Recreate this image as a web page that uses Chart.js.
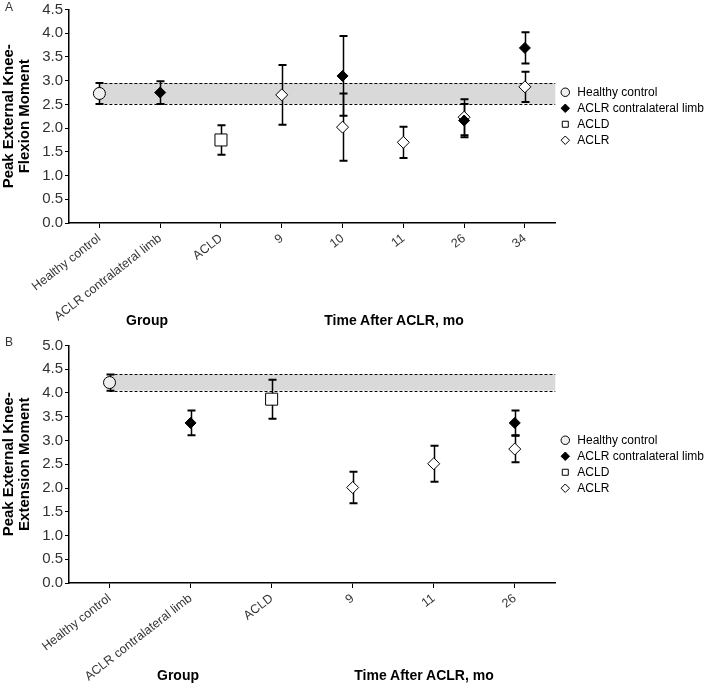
<!DOCTYPE html>
<html>
<head>
<meta charset="utf-8">
<script src="https://cdn.jsdelivr.net/npm/chart.js@4.4.0/dist/chart.umd.min.js"></script>
<style>
body { margin: 0; background: #fff; font-family: "Liberation Sans", Arial, sans-serif; }
#wrap { position: relative; width: 705px; height: 684px; overflow: hidden; }
canvas { position: absolute; left: 0; }
.lbl { position: absolute; white-space: nowrap; }
.ttl { font-weight: bold; font-size: 14px; color: #000; transform: translate(-50%, -50%); }
.pan { font-size: 12px; color: #333; }
</style>
</head>
<body>
<div id="wrap">
  <canvas id="chartA" width="705" height="335" style="top:0"></canvas>
  <canvas id="chartB" width="705" height="348" style="top:336px"></canvas>
  <div class="lbl pan" style="left:5px;top:0px">A</div>
  <div class="lbl pan" style="left:5px;top:335px">B</div>
  <div class="lbl ttl" style="left:147px;top:320px">Group</div>
  <div class="lbl ttl" style="left:394px;top:320px">Time After ACLR, mo</div>
  <div class="lbl ttl" style="left:178px;top:675px">Group</div>
  <div class="lbl ttl" style="left:424px;top:675px">Time After ACLR, mo</div>
</div>
<script>
// panel A - flexion moment
const labelsA = ["Healthy control", "ACLR contralateral limb", "ACLD", "9", "10", "11", "26", "34"];
const healthyA   = [2.73, null, null, null, null, null, null, null];
const healthySdA = [0.22, null, null, null, null, null, null, null];
const contraA    = [null, 2.75, null, null, 3.10, null, 2.16, 3.69];
const contraSdA  = [null, 0.24, null, null, 0.84, null, 0.35, 0.33];
const acldA      = [null, null, 1.75, null, null, null, null, null];
const acldSdA    = [null, null, 0.31, null, null, null, null, null];
const aclrA      = [null, null, null, 2.70, 2.02, 1.70, 2.23, 2.87];
const aclrSdA    = [null, null, null, 0.63, 0.71, 0.33, 0.38, 0.32];
const bandA = [2.51, 2.95];

// panel B - extension moment
const labelsB = ["Healthy control", "ACLR contralateral limb", "ACLD", "9", "11", "26"];
const healthyB   = [4.22, null, null, null, null, null];
const healthySdB = [0.17, null, null, null, null, null];
const contraB    = [null, 3.37, null, null, null, 3.37];
const contraSdB  = [null, 0.26, null, null, null, 0.26];
const acldB      = [null, null, 3.87, null, null, null];
const acldSdB    = [null, null, 0.41, null, null, null];
const aclrB      = [null, null, null, 2.01, 2.51, 2.82];
const aclrSdB    = [null, null, null, 0.33, 0.38, 0.28];
const bandB = [4.05, 4.39];

const FONT = "'Liberation Sans', Arial, sans-serif";

// gray reference band (healthy mean +/- sd) from the healthy category to the right edge
const bandPlugin = {
  id: 'band',
  beforeDatasetsDraw(chart, args, opts) {
    const { ctx, chartArea, scales: { x, y } } = chart;
    const x0 = x.getPixelForValue(0);
    const yLo = y.getPixelForValue(opts.range[0]);
    const yHi = y.getPixelForValue(opts.range[1]);
    ctx.save();
    ctx.fillStyle = '#d9d9d9';
    ctx.fillRect(x0, yHi, chartArea.right - x0, yLo - yHi);
    ctx.strokeStyle = '#000';
    ctx.lineWidth = 1;
    ctx.setLineDash([3, 2]);
    [yLo, yHi].forEach(py => {
      ctx.beginPath();
      ctx.moveTo(x0, Math.round(py) + 0.5);
      ctx.lineTo(chartArea.right, Math.round(py) + 0.5);
      ctx.stroke();
    });
    ctx.restore();
  }
};

const errorBars = {
  id: 'errorBars',
  beforeDatasetsDraw(chart) {
    const { ctx, scales: { x, y } } = chart;
    ctx.save();
    ctx.strokeStyle = '#000';
    chart.data.datasets.forEach(ds => {
      ds.data.forEach((v, i) => {
        if (v == null || ds.sd[i] == null) return;
        const px = Math.round(x.getPixelForValue(i)) + 0.5;
        const top = y.getPixelForValue(v + ds.sd[i]);
        const bot = y.getPixelForValue(v - ds.sd[i]);
        ctx.lineWidth = 1.5;
        ctx.beginPath();
        ctx.moveTo(px, top);
        ctx.lineTo(px, bot);
        ctx.stroke();
        ctx.lineWidth = 2;
        ctx.beginPath();
        ctx.moveTo(px - 4, top);
        ctx.lineTo(px + 4, top);
        ctx.moveTo(px - 4, bot);
        ctx.lineTo(px + 4, bot);
        ctx.stroke();
      });
    });
    ctx.restore();
  }
};

function series(label, data, sd, style, radius, fill) {
  return {
    label: label,
    data: data,
    sd: sd,
    showLine: false,
    pointStyle: style,
    pointRadius: radius,
    pointHoverRadius: radius,
    pointBackgroundColor: fill,
    pointBorderColor: '#000',
    pointBorderWidth: 1,
    backgroundColor: fill,
    borderColor: '#000'
  };
}

function makeChart(id, labels, sets, yMax, band, xHeight, padTop, yTitle) {
  return new Chart(document.getElementById(id), {
    type: 'line',
    data: { labels: labels, datasets: sets },
    plugins: [bandPlugin, errorBars],
    options: {
      responsive: false,
      animation: false,
      devicePixelRatio: 1,
      layout: { padding: { top: padTop, right: -9, left: 0, bottom: 0 } },
      plugins: {
        band: { range: band },
        tooltip: { enabled: false },
        legend: {
          position: 'right',
          align: 'center',
          fullSize: false,
          labels: {
            usePointStyle: true,
            boxWidth: 12,
            boxHeight: 6,
            padding: 4,
            color: '#000',
            font: { size: 12, family: FONT }
          }
        }
      },
      scales: {
        x: {
          offset: true,
          ticks: {
            autoSkip: false, minRotation: 38, maxRotation: 38,
            color: '#333', padding: 3,
            font: { size: 12.5, family: FONT }
          },
          grid: { drawOnChartArea: false, offset: false, tickLength: 5, color: '#000', lineWidth: 1 },
          border: { color: '#000', width: 1.5 },
          afterFit(s) { s.height = xHeight; s.paddingLeft = 0; s.paddingRight = 0; }
        },
        y: {
          min: 0, max: yMax,
          ticks: {
            stepSize: 0.5, color: '#333', padding: 2,
            font: { size: 15, family: FONT },
            callback: v => Number(v).toFixed(1)
          },
          grid: { drawOnChartArea: false, tickLength: 4, color: '#000', lineWidth: 1 },
          border: { color: '#000', width: 1.5 },
          title: {
            display: true, text: yTitle, color: '#000',
            padding: { top: 1, bottom: 0 },
            font: { size: 15, weight: 'bold', family: FONT, lineHeight: 1.07 }
          },
          afterFit(s) { s.width = 69; s.paddingTop = 0; s.paddingBottom = 0; }
        }
      }
    }
  });
}

makeChart('chartA', labelsA, [
  series('Healthy control', healthyA, healthySdA, 'circle', 6, '#efefef'),
  series('ACLR contralateral limb', contraA, contraSdA, 'rectRot', 5.5, '#000'),
  series('ACLD', acldA, acldSdA, 'rect', 8.5, '#fff'),
  series('ACLR', aclrA, aclrSdA, 'rectRot', 6, '#fff')
], 4.5, bandA, 112, 5, ['Peak External Knee-', 'Flexion Moment']);

makeChart('chartB', labelsB, [
  series('Healthy control', healthyB, healthySdB, 'circle', 6, '#efefef'),
  series('ACLR contralateral limb', contraB, contraSdB, 'rectRot', 5.5, '#000'),
  series('ACLD', acldB, acldSdB, 'rect', 8.5, '#fff'),
  series('ACLR', aclrB, aclrSdB, 'rectRot', 6, '#fff')
], 5.0, bandB, 101, 6, ['Peak External Knee-', 'Extension Moment']);
</script>
</body>
</html>
